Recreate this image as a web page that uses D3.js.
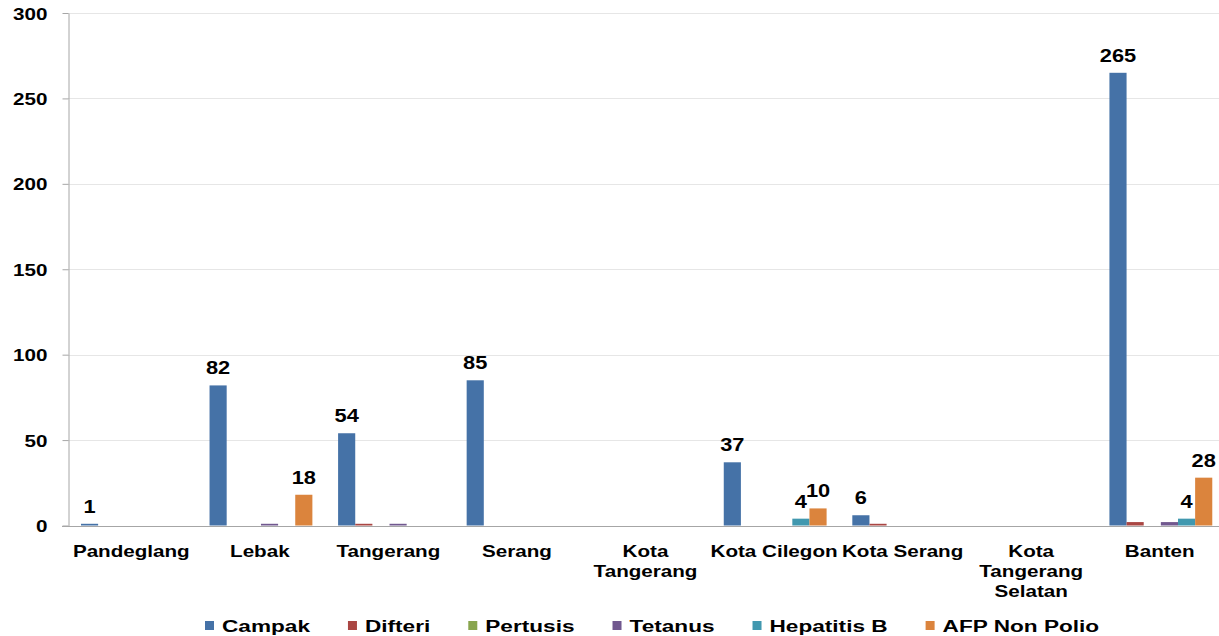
<!DOCTYPE html>
<html>
<head>
<meta charset="utf-8">
<script src="https://cdn.jsdelivr.net/npm/d3@7"></script>
<style>
  html, body { margin: 0; padding: 0; background: #fff; }
  svg { display: block; font-family: "Liberation Sans", Arial, sans-serif; font-weight: bold; }
</style>
</head>
<body>
<svg id="chart" width="1219" height="636"></svg>
<script>
// Regions (x categories); "\n" splits a label over lines
const categories = ["Pandeglang", "Lebak", "Tangerang", "Serang", "Kota\nTangerang",
                    "Kota Cilegon", "Kota Serang", "Kota\nTangerang\nSelatan", "Banten"];

const seriesNames = ["Campak", "Difteri", "Pertusis", "Tetanus", "Hepatitis B", "AFP Non Polio"];
const seriesColors = ["#4572A7", "#AA4643", "#89A54E", "#71588F", "#4198AF", "#DB843D"];

// Case counts per region, one array per disease
const campak     = [1, 82, 54, 85, 0, 37, 6, 0, 265];
const difteri    = [0, 0, 1, 0, 0, 0, 1, 0, 2];
const pertusis   = [0, 0, 0, 0, 0, 0, 0, 0, 0];
const tetanus    = [0, 1, 1, 0, 0, 0, 0, 0, 2];
const hepatitisB = [0, 0, 0, 0, 0, 4, 0, 0, 4];
const afpNonPolio= [0, 18, 0, 0, 0, 10, 0, 0, 28];

// Which series carry value labels above their bars
const labelledSeries = ["Campak", "Hepatitis B", "AFP Non Polio"];

const yTicks = [0, 50, 100, 150, 200, 250, 300];

const seriesValues = [campak, difteri, pertusis, tetanus, hepatitisB, afpNonPolio];

const svg = d3.select("#chart");
const SX = 1.25; // horizontal text stretch

const plot = { left: 68, right: 1225, top: 13, bottom: 525.5 };

const x0 = d3.scaleBand().domain(d3.range(categories.length)).range([plot.left, plot.right]);
const x1 = d3.scaleBand().domain(seriesNames)
  .range([x0.bandwidth() * 0.101, x0.bandwidth() * 0.901]);
const y = d3.scaleLinear().domain([0, 300]).range([plot.bottom, plot.top]);

// gridlines
svg.append("g").selectAll("line").data(yTicks.filter(d => d > 0)).join("line")
  .attr("x1", plot.left).attr("x2", 1219)
  .attr("y1", d => Math.round(y(d)) + 0.5).attr("y2", d => Math.round(y(d)) + 0.5)
  .attr("stroke", "#e6e6e6").attr("stroke-width", 1);

// bars
const rows = [];
seriesNames.forEach((s, si) => {
  seriesValues[si].forEach((v, ci) => rows.push({ s, si, ci, v }));
});

svg.append("g").selectAll("rect").data(rows.filter(d => d.v > 0)).join("rect")
  .attr("x", d => x0(d.ci) + x1(d.s))
  .attr("width", x1.bandwidth())
  .attr("y", d => y(d.v))
  .attr("height", d => y(0) - y(d.v))
  .attr("fill", d => seriesColors[d.si]);

// y axis
const yAxis = svg.append("g")
  .attr("transform", `translate(${plot.left + 0.5},0)`)
  .call(d3.axisLeft(y).tickValues(yTicks).tickSize(6).tickSizeOuter(0).tickFormat(d3.format("d")));
yAxis.select(".domain").attr("stroke", "#a6a6a6");
yAxis.selectAll(".tick line").attr("stroke", "#a6a6a6");
yAxis.selectAll(".tick text")
  .attr("x", 0).attr("dy", null)
  .attr("font-size", 16.5).attr("font-weight", "bold").attr("font-family", "Liberation Sans, Arial, sans-serif")
  .attr("fill", "#000").attr("text-anchor", "end")
  .attr("transform", `translate(-21,6) scale(${SX},1)`);

// x baseline
svg.append("line")
  .attr("x1", plot.left - 6).attr("x2", 1219)
  .attr("y1", Math.round(y(0)) + 0.5).attr("y2", Math.round(y(0)) + 0.5)
  .attr("stroke", "#a6a6a6");

// category labels
const catG = svg.append("g");
categories.forEach((c, i) => {
  const cx = x0(i) + x0.bandwidth() / 2 - 1;
  const t = catG.append("text")
    .attr("transform", `translate(${cx},557) scale(${SX},1)`)
    .attr("text-anchor", "middle").attr("font-size", 16.5).attr("fill", "#000");
  c.split("\n").forEach((line, li) => {
    t.append("tspan").attr("x", 0).attr("y", li * 20).text(line);
  });
});

// value labels
svg.append("g").selectAll("text")
  .data(rows.filter(d => d.v > 0 && labelledSeries.includes(d.s))).join("text")
  .attr("transform", d => `translate(${x0(d.ci) + x1(d.s) + x1.bandwidth() / 2},${y(d.v) - 11}) scale(1.18,1)`)
  .attr("text-anchor", "middle").attr("font-size", 18.5).attr("fill", "#000")
  .text(d => d.v);

// legend
const legend = svg.append("g");
const LSX = 1.33;
let lx = 205;
seriesNames.forEach((s, i) => {
  legend.append("rect").attr("x", lx).attr("y", 621).attr("width", 9).attr("height", 9)
    .attr("fill", seriesColors[i]);
  const t = legend.append("text")
    .attr("transform", `translate(${lx + 17},632) scale(${LSX},1)`)
    .attr("font-size", 17).attr("fill", "#000").text(s);
  const w = t.node().getComputedTextLength() * LSX;
  lx += 17 + w + 38;
});
</script>
</body>
</html>
